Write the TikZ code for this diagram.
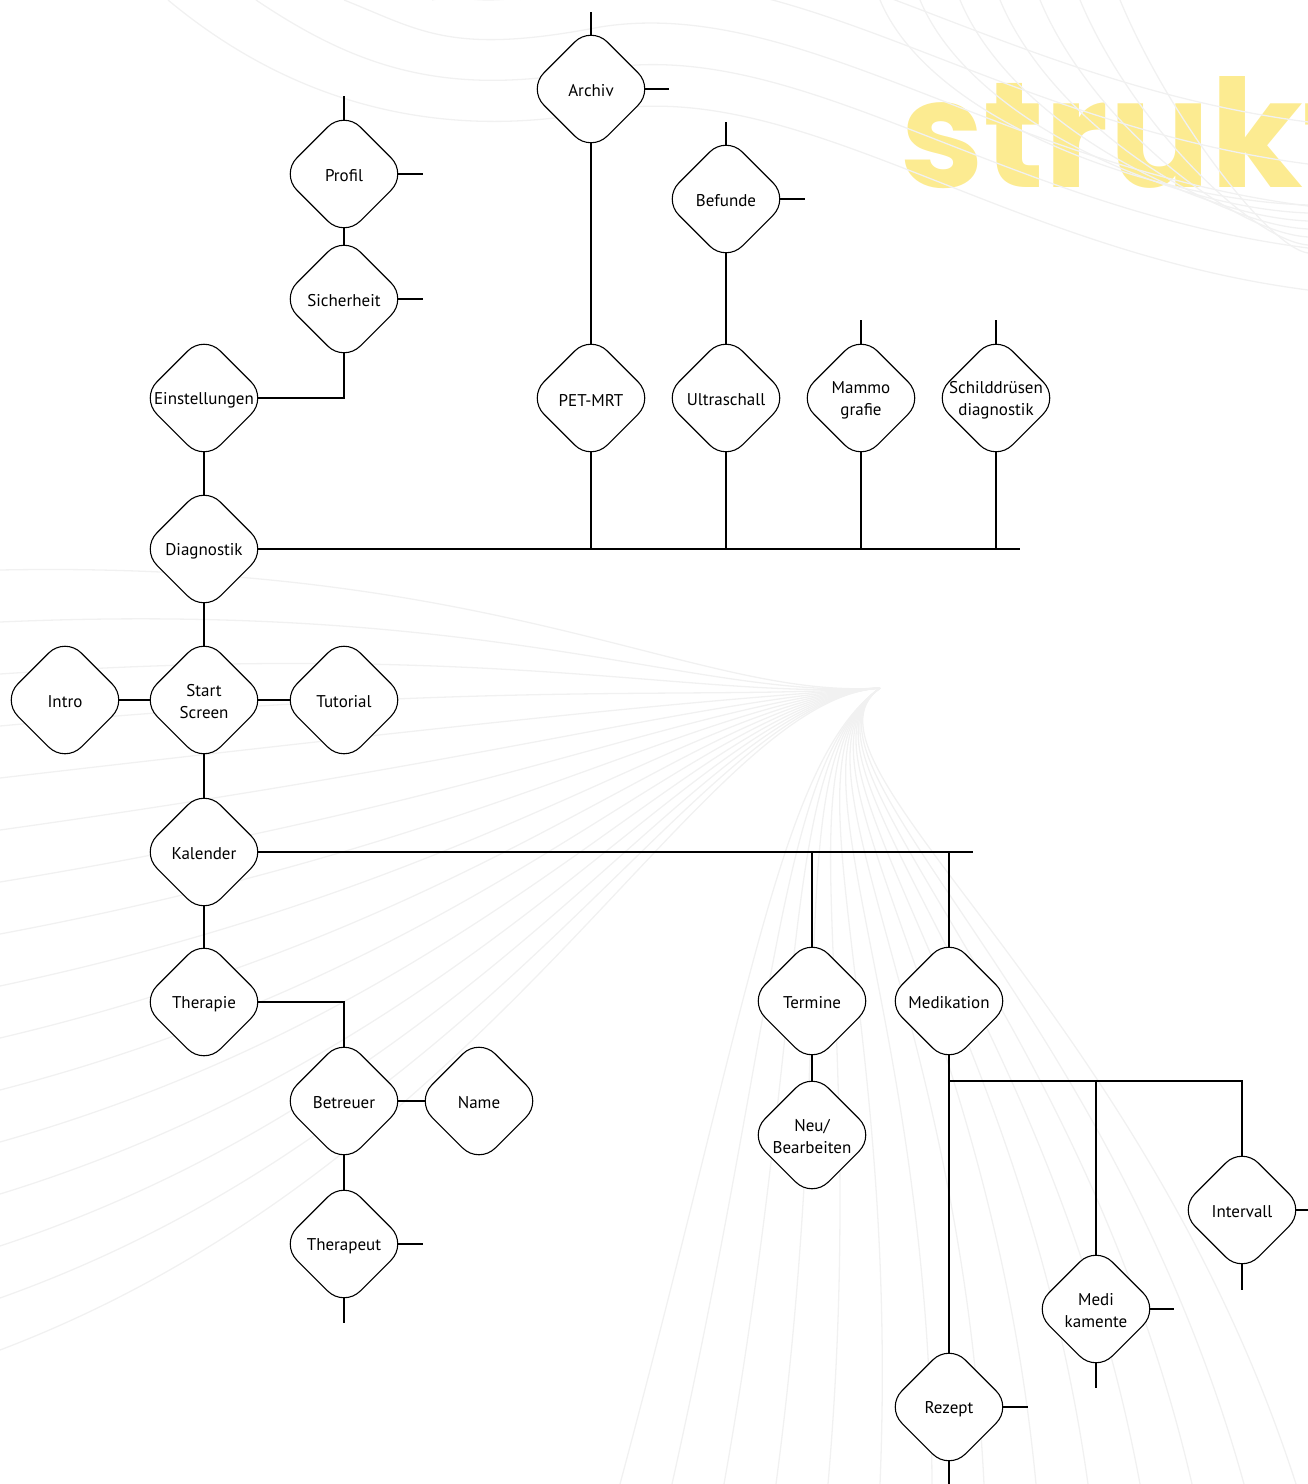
\documentclass[tikz,border=0pt]{standalone}
\usepackage{fontspec}
\setmainfont{PT Sans}
\newfontfamily\titlefont{Poppins}
\usetikzlibrary{shapes.geometric,backgrounds}

\definecolor{titleyellow}{RGB}{252,235,145}
\definecolor{wave}{RGB}{241,241,241}

\tikzset{
  dia/.style={diamond, draw, fill=white, line width=1.1pt,
    minimum size=127pt, inner sep=0pt, rounded corners=23pt,
    label={[align=center, yshift=-2pt]center:#1}},
  link/.style={line width=2.6pt},
  waveline/.style={draw=wave, line width=1.3pt},
}

\begin{document}
\begin{tikzpicture}[x=1pt, y=-1pt, font=\fontsize{17}{22}\selectfont]
\useasboundingbox (0,0) rectangle (1308,1484);

% diagnostik branch
\node[dia=Archiv] (archiv) at (591,89) {};
\node[dia=Profil] (profil) at (344,174) {};
\node[dia=Befunde] (befunde) at (726,199) {};
\node[dia=Sicherheit] (sicher) at (344,299) {};
\node[dia=Einstellungen] (einst) at (204,398) {};
\node[dia=PET-MRT] (petmrt) at (591,398) {};
\node[dia=Ultraschall] (ultra) at (726,398) {};
\node[dia={Mammo\\grafie}] (mammo) at (861,398) {};
\node[dia={Schilddrüsen\\diagnostik}] (schild) at (996,398) {};
\node[dia=Diagnostik] (diag) at (204,549) {};

% start
\node[dia=Intro] (intro) at (65,700) {};
\node[dia={Start\\Screen}] (start) at (204,700) {};
\node[dia=Tutorial] (tutorial) at (344,700) {};

% kalender branch
\node[dia=Kalender] (kal) at (204,852) {};
\node[dia=Therapie] (therapie) at (204,1002) {};
\node[dia=Betreuer] (betreuer) at (344,1101) {};
\node[dia=Name] (name) at (479,1101) {};
\node[dia=Therapeut] (therapeut) at (344,1244) {};
\node[dia=Termine] (termine) at (812,1001) {};
\node[dia={Neu/\\Bearbeiten}] (neu) at (812,1135) {};
\node[dia=Medikation] (medik) at (949,1001) {};
\node[dia=Intervall] (intervall) at (1242,1210) {};
\node[dia={Medi\\kamente}] (medikam) at (1096,1309) {};
\node[dia=Rezept] (rezept) at (949,1407) {};

\coordinate (diagbus) at (1020,549);
\coordinate (kalbus) at (973,852);
\coordinate (medbus) at (949,1081);

\begin{pgfonlayer}{background}
\begin{scope}
\clip (0,0) rectangle (1308,1484);
% title
\node[anchor=base west, inner sep=0pt, text=titleyellow, font=\titlefont\bfseries\fontsize{150}{150}\selectfont]
  (title) at (900,187) {struktur};
% faint waves
\foreach \i in {0,...,4}
  \draw[waveline] (168+88*\i,0) .. controls (300+60*\i,110-40*\i) and (450,140-42*\i) .. (600,111-42*\i)
    .. controls (800,75-40*\i) and (1000,250-42*\i) .. (1308,290-42*\i);
\foreach \i in {0,...,6}
  \draw[waveline] (880+40*\i,0) .. controls (930+40*\i,120) and (1150+20*\i,200+8*\i) .. (1308,205+8*\i);
\foreach \i in {0,...,15}
  \draw[waveline] (880,688) .. controls (700,700) and (500,560+40*\i) .. (0,570+52*\i);
\foreach \i in {0,...,13}
  \draw[waveline] (880,688) .. controls (780,760) and (750+30*\i,1000) .. (620+52*\i,1484);
\end{scope}

% connectors
\draw[link] (archiv.center) -- ++(0,-77);
\draw[link] (archiv.center) -- ++(78,0);
\draw[link] (archiv.center) -- (petmrt.center);
\draw[link] (profil.center) -- ++(0,-78);
\draw[link] (profil.center) -- ++(79,0);
\draw[link] (profil.center) -- (sicher.center);
\draw[link] (sicher.center) -- ++(79,0);
\draw[link] (einst.center) -| (sicher.center);
\draw[link] (einst.center) -- (diag.center);
\draw[link] (befunde.center) -- ++(0,-77);
\draw[link] (befunde.center) -- ++(79,0);
\draw[link] (befunde.center) -- (ultra.center);
\draw[link] (mammo.center) -- ++(0,-78);
\draw[link] (schild.center) -- ++(0,-78);
\draw[link] (diag.center) -- (diagbus);
\foreach \n in {petmrt,ultra,mammo,schild}
  \draw[link] (\n.center) -- (\n.center |- diagbus);

\draw[link] (diag.center) -- (start.center);
\draw[link] (intro.center) -- (tutorial.center);
\draw[link] (start.center) -- (kal.center);

\draw[link] (kal.center) -- (kalbus);
\draw[link] (termine.center) -- (termine.center |- kalbus);
\draw[link] (medik.center) -- (medik.center |- kalbus);
\draw[link] (termine.center) -- (neu.center);
\draw[link] (kal.center) -- (therapie.center);
\draw[link] (therapie.center) -| (betreuer.center);
\draw[link] (betreuer.center) -- (name.center);
\draw[link] (betreuer.center) -- (therapeut.center);
\draw[link] (therapeut.center) -- ++(79,0);
\draw[link] (therapeut.center) -- ++(0,79);

\draw[link] (medik.center) -- (rezept.center);
\draw[link] (medbus) -| (intervall.center);
\draw[link] (medikam.center) -- (medikam.center |- medbus);
\draw[link] (intervall.center) -- ++(70,0);
\draw[link] (intervall.center) -- ++(0,80);
\draw[link] (medikam.center) -- ++(78,0);
\draw[link] (medikam.center) -- ++(0,79);
\draw[link] (rezept.center) -- ++(79,0);
\draw[link] (rezept.center) -- ++(0,80);
\end{pgfonlayer}
\end{tikzpicture}
\end{document}
